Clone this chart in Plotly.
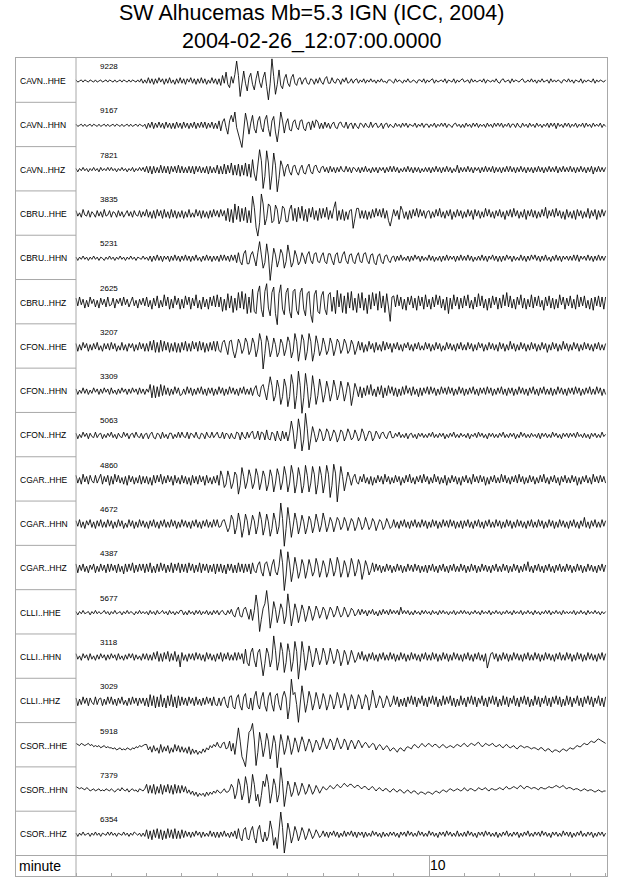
import plotly.graph_objects as go

# station / channel labels and max counts shown above each trace
stations = ["CAVN..HHE", "CAVN..HHN", "CAVN..HHZ",
            "CBRU..HHE", "CBRU..HHN", "CBRU..HHZ",
            "CFON..HHE", "CFON..HHN", "CFON..HHZ",
            "CGAR..HHE", "CGAR..HHN", "CGAR..HHZ",
            "CLLI..HHE", "CLLI..HHN", "CLLI..HHZ",
            "CSOR..HHE", "CSOR..HHN", "CSOR..HHZ"]
max_counts = [9228, 9167, 7821, 3835, 5231, 2625, 3207, 3309, 5063,
              4860, 4672, 4387, 5677, 3118, 3029, 5918, 7379, 6354]

# samples every 0.05 min (one line = one minute), scaled so 20 = max count
dt_min = 0.05
minute_ticks = [0, 1, 2, 3, 4, 5, 6, 7, 8, 9, 11, 12, 13, 14, 15]

cavn_hhe = [
    1,-1,0,1,-1,1,0,-1,1,0,-1,1,-1,0,1,-1,0,1,-1,1,
    0,-1,1,-1,0,1,-1,1,0,-1,1,-1,1,0,-1,1,-1,2,-2,1,
    -2,3,-2,2,-3,2,-2,3,-1,2,-3,2,-2,3,-2,1,-3,2,-2,3,
    -2,2,-3,2,-1,3,-2,2,-3,2,-2,3,-2,2,-3,1,-2,3,-2,2,
    -3,2,-4,5,-2,8,-3,-6,4,-2,6,18,5,-14,-4,9,-2,-9,3,7,
    -3,-8,2,9,-1,-6,3,8,-5,-17,-2,20,4,-12,-3,10,-4,-7,2,6,
    -2,-5,3,6,-2,-4,2,3,-3,1,3,-2,-3,2,1,-3,2,-2,3,-1,
    -3,2,4,-2,-2,3,-1,-2,2,1,-3,2,-1,3,-2,-1,2,-2,1,2,
    -2,1,-1,2,-2,1,-1,2,-1,1,-2,1,-1,2,-1,0,-2,1,1,-1,
    -2,2,-1,1,0,-2,1,-1,2,-1,-1,1,0,-2,1,1,-1,2,-2,1,
    -1,1,2,-2,1,-1,0,1,-1,2,-2,1,0,-1,2,-2,1,-1,1,2,
    -1,0,1,-2,2,-1,1,-1,0,1,-1,2,-2,1,0,-1,1,-1,2,-1,
    -2,1,2,-1,0,1,-2,2,-1,1,0,-1,1,2,-1,-1,1,-1,2,-1,
    1,-2,1,-1,2,-1,0,1,-2,2,-1,1,-1,1,0,-2,1,1,-1,2,
    -1,1,-2,1,0,-1,2,-2,1,-1,1,0,-1,2,-2,1,-1,1,0,-1,
    1]
cavn_hhn = [
    1,-1,0,1,-1,1,-1,0,1,-1,1,0,-1,1,-1,0,1,-1,1,-1,
    0,1,-1,1,0,-1,1,-1,0,1,-1,1,-1,0,1,-1,1,0,-1,1,
    -3,2,-2,3,-3,2,-2,3,-2,2,-3,3,-2,2,-3,2,-3,3,-2,2,
    -3,3,-2,2,-3,2,-2,3,-3,2,-2,3,-2,3,-3,2,-2,3,-3,2,
    -3,4,-5,3,6,-2,-8,4,9,3,12,-2,-7,-14,-20,-6,11,3,-8,2,
    9,-3,-7,4,8,-2,-6,5,9,-3,-10,4,8,-6,-15,-3,12,4,-7,2,
    6,-4,-5,3,5,-2,-4,4,5,-3,-5,2,3,-4,4,-2,5,3,-3,2,
    -3,3,-2,2,-3,1,3,-2,-3,2,3,-1,-2,3,-3,1,2,-3,2,-1,
    -3,2,1,-2,2,-1,-2,3,-2,1,2,-2,-1,2,-3,1,2,-2,1,-1,
    -2,2,-1,1,-2,2,-1,2,-2,1,0,-1,2,-2,1,-1,2,-2,1,1,
    -2,1,-1,2,-2,1,-1,2,-1,2,-2,1,0,-2,1,2,-1,1,-2,1,
    -2,2,-1,1,-2,2,-1,2,-2,1,-1,1,-2,2,-1,1,-2,2,-1,2,
    -1,2,-2,1,-1,2,-2,1,1,-2,2,-1,-2,2,-1,1,-2,2,-1,1,
    -2,2,-1,1,-2,1,-1,2,-2,2,-1,2,-3,2,-1,1,-2,2,-1,2,
    -2,1,-1,2,-2,1,-1,2,-2,2,-1,1,-2,2,-1,1,-1,2,-2,1,
    -1]
cavn_hhz = [
    1,-2,1,-1,2,-1,1,-2,1,-1,2,-1,1,-2,2,-1,1,-1,2,-1,
    2,-1,1,-2,1,-1,2,-1,1,-2,1,-1,2,-2,1,-1,2,-1,2,-2,
    3,-3,3,-4,3,-3,2,-3,4,-3,3,-3,3,-4,3,-2,3,-3,4,-3,
    3,-3,2,-3,3,-3,3,-4,3,-2,3,-3,2,-3,3,-4,3,-3,2,-3,
    4,-4,3,-4,5,-4,4,-3,6,-5,4,-5,5,-6,4,-5,6,-6,5,-7,
    9,-4,-10,6,18,8,-17,-6,17,6,-18,-5,15,4,-20,-8,8,3,-6,2,
    5,-2,-5,3,4,-2,-5,1,4,-3,-4,2,5,-2,-4,3,4,-1,-3,2,
    3,-2,2,-3,3,-2,2,-3,2,-2,3,-1,-2,3,-2,2,-3,2,1,-2,
    2,-3,2,-2,3,-2,1,-3,2,-2,2,-3,2,-1,2,-3,2,-2,3,-2,
    3,-2,2,-3,1,-2,2,-2,3,-2,2,-3,2,-2,2,-3,1,-2,2,-2,
    2,-3,2,-2,3,-2,2,-3,2,-2,3,-2,2,-3,1,-2,4,-3,2,-2,
    2,-2,3,-2,2,-3,2,-1,2,-3,2,-2,3,-2,2,-2,3,-3,2,-2,
    2,-3,2,-2,3,-2,3,-2,2,-3,2,-2,3,-2,2,-3,2,-2,2,-3,
    2,-2,3,-2,2,-3,2,-2,3,-2,2,-2,3,-3,2,-2,3,-2,2,-2,
    3,-2,2,-3,2,-2,3,-2,2,-3,2,-2,3,-4,2,-2,3,-2,2,-2,
    2]
cbru_hhe = [
    3,-2,1,-3,4,-1,-2,3,-3,2,0,-3,3,-2,2,-3,4,-2,-1,3,
    -3,2,1,-3,3,-2,2,-3,0,3,-2,2,-3,3,-1,-2,3,-3,2,-2,
    4,-3,2,-4,3,-4,4,-2,3,-4,4,-3,2,-4,4,-3,3,-4,2,-3,
    3,-4,2,-3,4,-3,1,-3,4,-2,3,-4,3,-3,2,-4,3,-3,4,-2,
    3,-3,4,-2,3,-6,5,-7,4,-8,9,-5,7,-7,5,-6,6,-8,3,-8,
    16,6,-12,-20,-8,18,9,-10,-4,9,7,-8,-6,8,4,-9,-5,7,5,-7,
    -7,4,8,-6,5,-7,6,-4,7,-6,4,-7,5,-3,6,-5,3,-6,5,-4,
    5,-3,6,-5,3,-4,5,11,-6,3,-5,4,-6,2,-5,3,4,-13,-4,5,
    5,-4,3,-4,3,-5,2,-4,4,-3,5,-2,4,-3,5,-4,3,-6,-11,-4,
    4,-2,3,-5,7,3,-4,2,-5,3,-4,4,-2,5,-3,4,-2,3,-4,2,
    3,-4,2,-3,4,-2,5,-3,2,-4,3,-2,4,-5,2,-3,4,-2,3,-4,
    2,-3,4,-2,3,-5,4,-2,3,-4,2,-3,5,-2,4,-3,2,-4,3,-2,
    4,-3,2,-5,3,-2,4,-3,5,-2,3,-4,2,-3,4,-5,3,-2,4,-3,
    3,-4,2,-3,4,-2,6,-4,3,-2,4,-3,5,-2,3,-4,2,-5,4,-3,
    2,-4,3,-5,4,-2,3,-4,2,-3,5,-4,3,-2,4,-5,3,-3,4,-2,
    3]
cbru_hhn = [
    1,-2,1,-1,2,-1,1,-2,1,-1,2,-1,1,-2,1,0,-2,1,-1,2,
    -1,1,-2,1,-1,2,-1,1,-2,1,-1,2,-1,1,-2,1,0,-1,2,-1,
    1,-2,2,-3,2,-2,3,-2,2,-3,2,-1,2,-3,2,-2,3,-2,2,-3,
    2,-2,3,-2,2,-3,2,-2,3,-2,1,-3,2,-2,3,-2,2,-3,2,-2,
    2,-3,3,-2,3,-2,2,-3,3,-2,3,-4,5,-3,-6,4,7,-5,-5,3,
    6,-2,-7,5,15,3,-9,-4,13,2,-20,-5,9,3,-8,-2,8,4,-9,-3,
    12,3,-8,-4,7,2,-6,-3,5,1,-5,3,6,-2,-5,4,5,-3,-4,2,
    5,-3,-5,4,4,-2,-6,3,5,-4,-4,3,6,-2,-5,3,4,-3,-5,2,
    5,-3,-4,4,5,-2,-5,3,4,-4,-6,2,4,-3,-5,2,3,-2,-4,1,
    2,-3,2,-2,3,-2,1,-2,2,-3,2,-2,3,-1,2,-3,2,-2,1,-2,
    3,-2,2,-3,1,-2,2,-3,2,-2,3,-2,2,-1,2,-3,2,-2,3,-2,
    2,-2,3,-2,2,-3,1,-2,2,-2,3,-2,2,-3,2,-1,3,-2,2,-3,
    2,-3,2,-2,3,-1,2,-3,2,-2,1,-2,3,-2,2,-3,2,-2,3,-1,
    3,-2,2,-3,2,-2,3,-2,1,-3,2,-2,3,-2,2,-3,2,-1,2,-2,
    2,-2,3,-2,3,-3,2,-1,2,-2,3,-2,2,-3,2,-2,3,-2,2,-2,
    2]
cbru_hhz = [
    4,-3,5,-2,3,-5,2,-4,5,-1,3,-4,2,-5,4,-2,3,-4,5,-3,
    -2,4,-5,3,-1,4,-3,5,-2,3,-4,1,5,-3,2,-5,3,-2,4,-3,
    5,-4,2,-6,4,-3,6,-5,2,-4,7,-3,5,-6,3,-5,6,-2,4,-6,
    3,-5,6,-2,5,-6,4,-3,7,-5,2,-6,5,-4,3,-6,5,-3,6,-4,
    7,-4,5,-8,3,-7,8,-5,6,-9,4,-7,9,-5,10,-6,8,-10,5,-9,
    12,-8,-10,9,15,-6,-13,10,17,-5,-12,9,14,-10,-20,8,16,-6,-11,9,
    13,-8,-14,10,12,-7,-11,9,13,-6,-12,8,10,-11,-18,7,11,-8,-10,6,
    10,-6,-11,7,9,-8,5,-10,11,-4,8,-9,6,-10,9,-5,10,-7,4,-9,
    8,-5,9,-7,4,-10,7,-6,9,-3,8,-7,10,-5,6,-9,8,-4,-17,5,
    6,-4,7,-3,5,-6,3,-7,5,-2,6,-5,4,-7,6,-3,5,-6,7,-4,
    3,-6,5,-4,7,-2,6,-5,3,-7,5,-10,4,-6,7,-3,5,-6,4,-5,
    6,-3,7,-5,2,-6,5,-4,8,-3,6,-5,3,-7,4,-5,6,-2,5,-6,
    4,-5,7,-3,9,-4,6,-5,3,-6,5,-2,7,-5,4,-6,3,-4,7,-5,
    5,-3,6,-4,2,-7,5,-3,6,-5,4,-6,3,-5,7,-2,5,-6,4,-3,
    6,-5,3,-6,7,-4,5,-3,6,-5,2,-6,4,-7,5,-3,6,-4,5,-6,
    5]
cfon_hhe = [
    3,-4,2,-3,4,-1,3,-4,2,-3,3,-2,4,-3,1,-4,3,-2,3,-3,
    4,-2,3,-4,1,-3,4,-3,2,-4,3,-1,3,-4,2,-3,4,-2,3,-4,
    3,-4,5,-3,6,-5,4,-5,6,-4,5,-3,4,-5,3,-4,4,-5,3,-5,
    4,-3,5,-4,3,-4,5,-2,4,-4,5,-3,4,-5,3,-4,4,-3,5,-4,
    5,-3,-5,4,6,-2,-7,5,6,-4,-10,-3,7,3,-6,-2,8,4,-7,-3,
    8,3,-9,-2,12,5,-20,-6,10,4,-9,-3,8,2,-9,-5,7,3,-8,-2,
    9,4,-10,-4,12,5,-13,-3,11,6,-12,-4,12,5,-13,-5,10,3,-8,-3,
    8,2,-7,-3,8,3,-8,-2,7,4,-6,-2,7,3,-6,-3,6,2,-7,-2,
    5,-3,4,-5,2,-4,5,-2,3,-5,4,-3,2,-4,5,-3,4,-2,3,-5,
    3,-2,4,-3,2,-4,3,-1,4,-3,2,-4,3,-2,4,-3,1,-3,4,-2,
    3,-4,2,-3,4,-2,3,-4,1,-3,4,-2,3,-3,2,-4,3,-2,4,-3,
    2,-3,4,-2,3,-4,2,-3,4,-1,3,-4,2,-3,4,-2,3,-3,2,-4,
    4,-2,3,-4,2,-3,5,-2,3,-4,2,-3,4,-2,3,-4,2,-3,4,-2,
    3,-4,2,-3,4,-2,3,-5,2,-3,4,-2,3,-4,2,-3,5,-2,3,-4,
    2,-3,4,-2,3,-4,2,-3,4,-2,3,-3,2,-4,3,-2,4,-3,2,-3,
    3]
cfon_hhn = [
    2,-3,1,-2,3,-2,2,-3,1,-2,3,-1,2,-3,2,-2,3,-1,2,-3,
    3,-2,1,-3,2,-2,3,-1,2,-3,2,-2,3,-1,2,-3,3,-2,2,-3,
    2,-1,6,-6,5,-6,4,-5,6,-4,5,-3,3,-4,2,-3,4,-2,3,-4,
    -3,2,-3,4,-2,3,-4,2,-3,3,-2,4,-3,2,-4,3,-2,3,-4,2,
    -3,4,-2,3,-4,2,-3,4,-2,3,-3,2,-4,3,-2,4,-3,2,-3,3,
    -4,2,5,-3,-5,4,6,-2,-8,3,13,5,-9,-4,10,3,-12,-5,11,4,
    -14,-5,15,6,-16,-4,18,5,-20,-6,16,4,-15,-5,14,3,-12,-4,11,2,
    -10,-3,9,2,-9,-2,10,3,-8,-3,9,2,-9,-2,8,3,-13,-4,7,2,
    -5,4,-6,3,-4,5,-3,6,-4,2,-5,4,-3,5,-6,3,-4,5,-2,4,
    -4,3,-5,2,-4,4,-3,5,-2,3,-4,4,-3,2,-5,3,-4,3,-2,4,
    -3,4,-2,3,-4,2,-3,4,-2,3,-3,4,-2,3,-4,2,-3,4,-2,3,
    -4,2,-3,3,-2,4,-3,2,-4,3,-2,3,-3,4,-2,3,-4,2,-3,3,
    -2,4,-3,2,-4,3,-2,3,-4,2,-3,4,-2,3,-3,2,-4,3,-2,4,
    -3,2,-4,3,-2,4,-3,2,-3,3,-4,2,-3,4,-2,3,-3,2,-4,3,
    -2,3,-3,4,-2,3,-4,2,-3,3,-2,4,-3,2,-3,4,-2,3,-4,2,
    -3]
cfon_hhz = [
    2,-3,1,-2,3,-1,2,-3,2,-1,-2,3,-2,1,2,-3,1,-2,2,-1,
    3,-2,1,-3,2,-1,-2,3,-1,2,-3,1,2,-2,3,-1,-2,2,-3,1,
    2,-3,1,3,-2,-3,2,1,-3,3,-2,1,-3,2,2,-3,1,-2,3,-2,
    3,-1,-2,3,-3,2,1,-2,3,-2,-3,2,1,-3,3,-1,-2,3,-2,1,
    3,-2,-2,3,-3,2,1,-3,2,-2,-3,3,2,-4,3,-1,-3,3,-2,2,
    4,-3,-2,4,-4,3,2,-4,5,-3,-4,3,1,-5,4,-2,-5,4,-3,3,
    -5,2,13,4,-12,-3,15,5,-14,-4,20,6,-13,-3,8,2,-6,-2,6,3,
    -5,-2,6,3,-5,-1,5,2,-6,-2,5,3,-5,-1,6,2,-4,-2,5,1,
    -5,-2,6,2,-5,-1,4,3,-5,-2,4,1,-3,2,3,-1,-3,2,4,-2,
    -2,2,-1,3,-2,1,-2,2,-3,1,2,-2,1,-3,2,-1,2,-2,1,-2,
    2,-1,3,-2,1,-2,2,-1,2,-3,1,-2,2,-1,3,-2,1,-2,2,-1,
    1,-2,2,-3,1,-1,2,-2,3,-1,2,-2,1,-3,2,-1,2,-2,1,-2,
    2,-1,3,-2,1,-2,2,-1,2,-3,1,-2,3,-1,2,-2,1,-2,2,-1,
    1,-2,2,-3,2,-1,2,-2,1,-2,3,-1,2,-2,1,-3,2,-1,2,-2,
    2,-1,2,-2,3,-1,1,-2,2,-2,1,-3,2,-1,2,-2,1,-2,3,-1,
    1]
cgar_hhe = [
    4,-3,2,-4,5,-2,3,-4,4,-1,-3,4,-3,2,5,-4,3,-2,4,-5,
    3,-4,5,-2,4,-3,2,-4,3,-5,4,-2,3,-4,2,-3,4,-4,3,-3,
    3,-4,2,-5,4,-3,4,-2,5,-4,3,-3,4,-2,3,-5,4,-3,2,-4,
    4,-3,3,-4,2,-5,4,-3,3,-4,4,-2,3,-5,4,-3,2,-4,3,-3,
    4,-5,8,3,-7,-4,8,2,-8,-3,7,4,-13,-5,11,3,-8,-2,9,3,
    -8,-3,10,4,-9,-2,8,3,-10,-4,9,3,-11,-3,10,4,-9,-2,12,4,
    -11,-3,13,5,-12,-4,11,3,-12,-5,13,4,-11,-3,12,5,-13,-4,12,4,
    -12,-3,13,5,-16,-5,14,6,-20,-4,12,3,-10,-2,7,2,-5,2,5,-2,
    -4,3,-2,5,-3,2,-4,3,-5,2,-3,4,-2,3,-4,5,-2,3,-4,2,
    -3,4,-2,3,-5,2,-3,4,-2,5,-3,2,-4,3,-2,4,-3,5,-2,3,
    -4,2,-3,5,-2,3,-4,2,-3,4,-5,2,-3,4,-2,3,-4,2,-5,3,
    -2,4,-3,2,-4,5,-2,3,-3,4,-2,3,-5,2,-4,3,-2,4,-3,2,
    -3,5,-2,4,-3,2,-4,3,-2,4,-3,5,-2,3,-4,2,-3,4,-2,3,
    -4,2,-3,4,-2,5,-3,2,-4,3,-2,4,-3,2,-5,3,-2,4,-3,2,
    -3,4,-2,3,-5,2,-4,3,-2,4,-3,2,-4,5,-2,3,-3,4,-2,3,
    -3]
cgar_hhn = [
    3,-2,4,-3,2,-4,3,-1,4,-3,2,-4,3,-2,4,-3,2,-3,4,-2,
    3,-4,2,-3,4,-2,3,-4,1,-3,4,-2,3,-4,2,-3,4,-2,3,-3,
    2,-4,3,-2,4,-3,2,-4,3,-2,4,-3,2,-3,4,-2,3,-4,2,-3,
    4,-2,3,-3,2,-4,3,-2,4,-3,2,-4,3,-2,4,-3,2,-3,4,-2,
    4,-3,-2,3,4,-2,-7,-3,8,4,-9,-3,10,2,-12,-4,9,3,-10,-2,
    8,3,-9,-2,11,4,-10,-3,9,2,-11,-4,10,3,-9,-2,19,5,-20,-4,
    15,3,-12,-2,10,3,-9,-2,8,2,-9,-3,7,3,-8,-2,9,2,-7,-1,
    10,3,-7,-2,6,2,-7,-1,6,3,-5,-2,6,2,-6,-1,5,2,-6,-2,
    6,2,-5,-2,6,1,-5,-2,5,2,-6,-1,4,2,-5,-2,5,1,-4,-2,
    4,-3,2,-4,3,-2,4,-3,2,-4,3,-2,4,-3,2,-3,4,-2,3,-4,
    2,-3,4,-2,3,-4,2,-3,4,-2,3,-3,4,-2,3,-4,2,-3,3,-4,
    3,-2,4,-3,2,-4,3,-2,4,-3,2,-4,3,-2,4,-3,2,-3,4,-2,
    3,-4,2,-3,4,-2,3,-4,2,-3,4,-2,3,-3,2,-4,3,-2,4,-3,
    2,-3,4,-2,3,-4,2,-3,4,-2,3,-4,2,-3,4,-2,3,-3,2,-4,
    3,-2,4,-3,2,-4,3,-2,6,-3,2,-4,3,-2,4,-3,2,-3,4,-2,
    3]
cgar_hhz = [
    4,-4,3,-2,4,-3,2,-4,3,-1,4,-4,2,-3,4,-2,3,-4,4,-3,
    4,-2,3,-4,4,-3,2,-5,4,-3,4,-2,5,-4,3,-3,4,-2,4,-4,
    4,-3,5,-4,2,-4,4,-3,5,-2,4,-4,3,-3,5,-4,4,-2,5,-4,
    4,-3,4,-4,5,-2,4,-4,3,-3,5,-4,4,-2,4,-4,3,-3,4,-5,
    4,-3,4,-4,3,-5,4,-2,4,-4,3,-4,5,-3,4,-4,4,-3,4,-5,
    5,-2,-4,3,6,-3,-7,4,6,-2,-7,3,8,-3,-6,2,17,5,-20,-6,
    15,4,-12,-3,10,2,-9,-3,8,3,-9,-2,8,2,-7,-3,9,3,-8,-2,
    7,2,-8,-3,9,3,-7,-2,10,4,-8,-3,7,2,-8,-2,9,3,-7,-2,
    8,3,-10,-3,7,2,-6,-2,5,-3,4,-2,3,-4,2,-3,4,-2,3,-4,
    2,-3,4,-2,3,-4,2,-3,4,-2,3,-3,4,-2,3,-4,2,-3,3,-4,
    3,-2,4,-3,2,-4,3,-2,4,-3,2,-4,3,-2,4,-3,2,-3,4,-2,
    3,-4,2,-3,4,-2,3,-4,2,-3,4,-2,3,-3,2,-4,3,-2,4,-3,
    2,-3,4,-2,3,-4,2,-3,4,-2,3,-4,2,-3,4,-2,6,-3,2,-4,
    3,-2,4,-3,2,-4,3,-2,4,-3,2,-4,3,-2,4,-3,2,-3,4,-2,
    3,-4,2,-3,4,-2,3,-4,2,-3,4,-2,3,-3,2,-4,3,-2,4,-3,
    3]
clli_hhe = [
    1,-2,1,-1,2,-1,0,1,-2,1,-1,2,-1,1,-1,0,2,-1,1,-2,
    1,-1,2,-1,0,1,-2,1,-1,2,-1,1,0,-2,1,-1,2,-1,1,-1,
    1,-2,2,-1,1,-2,2,-1,0,2,-1,1,-2,2,-1,1,-2,1,-1,2,
    2,-2,1,-2,2,-1,1,-2,2,-1,2,-2,1,-1,2,-2,1,-2,2,-1,
    2,-2,1,2,-1,-2,2,-1,3,-2,-4,2,5,-3,-4,3,5,-2,-6,3,
    -7,2,16,5,-17,-6,4,8,20,6,-14,-4,10,3,-9,-2,8,3,-10,-3,
    17,4,-12,-3,8,2,-9,-2,7,2,-8,-2,6,1,-7,-2,6,2,-5,-1,
    5,2,-6,-1,5,2,-4,-1,6,1,-4,-2,5,1,-4,-1,4,2,-3,-1,
    3,-2,3,-1,2,-3,2,-1,3,-2,1,-3,2,-2,3,-1,2,-2,3,-1,
    2,-1,2,-2,5,-1,2,-1,2,-2,1,-2,2,-1,1,-2,2,-1,2,-1,
    1,-2,2,-1,1,-2,2,-1,2,-1,1,-2,1,-1,2,-2,1,-1,2,-1,
    2,-1,1,-2,1,-1,2,-1,1,-2,2,-1,1,-1,2,-2,1,-1,2,-1,
    1,-2,1,-1,2,-1,1,-2,2,-1,1,-1,2,-2,1,-1,2,-1,1,-2,
    2,-1,1,-2,1,-1,2,-1,2,-2,1,-1,2,-1,1,-2,2,-1,1,-1,
    1,-1,2,-2,1,-1,2,-1,1,-2,2,-1,1,-1,2,-1,1,-2,1,-1,
    1]
clli_hhn = [
    3,-2,1,-3,3,-1,2,-3,3,-2,1,-3,2,-2,3,-1,2,-3,2,-2,
    3,-1,2,-3,3,-2,1,-3,2,-2,3,-1,3,-3,2,-2,1,-3,3,-2,
    3,-3,2,-3,4,-2,5,-4,3,-4,4,-2,5,-4,3,-3,5,-4,2,-9,
    4,-3,2,-4,3,-2,3,-3,4,-2,3,-3,2,-4,4,-2,3,-3,2,-4,
    3,-2,4,-4,3,-2,4,-3,2,-3,4,-3,4,-2,3,-6,7,-5,-8,4,
    8,-3,-9,4,7,-5,-17,-6,8,3,-9,-2,19,6,-12,-4,13,5,-14,-5,
    12,4,-13,-4,14,5,-20,-6,14,4,-12,-3,10,3,-9,-2,8,2,-7,-2,
    8,3,-7,-2,8,2,-6,-2,7,3,-8,-3,6,2,-7,-2,6,1,-5,-2,
    4,-2,5,-3,2,-4,3,-2,4,-3,2,-4,3,-2,4,-3,2,-3,4,-2,
    3,-4,2,-3,4,-2,3,-4,2,-3,4,-2,3,-3,2,-4,3,-2,4,-3,
    2,-3,4,-2,3,-4,2,-3,4,-2,3,-4,2,-3,4,-2,3,-3,2,-4,
    3,-2,4,-3,2,-4,3,-2,4,-3,2,-4,3,-10,-2,3,4,-2,3,-4,
    2,-3,4,-2,3,-4,2,-3,4,-2,3,-3,2,-4,3,-2,4,-3,2,-3,
    4,-2,3,-4,2,-3,4,-2,3,-3,2,-4,3,-2,4,-3,2,-3,4,-2,
    3,-4,2,-3,4,-2,3,-4,2,-3,4,-2,3,-3,2,-4,3,-2,4,-3,
    3]
clli_hhz = [
    3,-4,2,-3,4,-2,3,-4,3,-1,-3,4,-3,2,3,-4,2,-3,4,-2,
    4,-3,2,-4,3,-2,4,-3,1,-4,3,-3,4,-2,3,-4,3,-2,3,-4,
    3,-5,6,-4,5,-6,4,-5,6,-5,3,-6,5,-4,6,-5,4,-6,5,-4,
    4,-3,3,-4,4,-2,3,-4,4,-3,2,-4,3,-3,4,-2,3,-4,4,-3,
    -4,3,-4,2,4,-3,-6,4,5,-5,-7,3,6,-4,-8,4,7,-5,-7,3,
    -8,4,9,-3,-7,3,8,-4,-9,4,8,-3,-9,5,7,-3,-8,4,9,3,
    -16,-5,20,6,8,-3,-19,-4,14,3,-10,-2,9,3,-8,-2,8,2,-7,-2,
    7,2,-8,-3,6,2,-7,-2,8,3,-6,-2,7,2,-8,-3,6,2,-7,-2,
    6,2,-7,-2,6,3,-8,-2,10,3,-6,-2,5,2,-6,-2,5,1,-5,-2,
    5,-3,4,-5,2,-4,3,-5,4,-2,5,-3,4,-5,3,-2,5,-4,3,-5,
    4,-2,5,-3,4,-5,2,-4,5,-3,4,-2,5,-4,3,-5,2,-4,5,-3,
    3,-5,4,-2,5,-3,4,-5,3,-2,5,-4,3,-5,4,-2,5,-3,4,-5,
    2,-4,5,-3,4,-5,3,-2,5,-4,3,-5,4,-2,5,-3,4,-5,2,-4,
    5,-3,4,-5,3,-2,5,-4,3,-5,4,-2,5,-3,4,-5,2,-4,5,-3,
    4,-5,3,-2,5,-4,3,-5,4,-2,5,-3,4,-5,3,-2,5,-4,3,-5,
    4]
csor_hhe = [
    2,1,0,2,1,0,1,2,0,1,-1,0,-1,0,-2,-1,0,-2,-1,-2,
    -2,-3,-2,-4,-3,-2,-4,-3,-4,-2,-3,-4,-2,-3,-1,-2,0,-1,0,1,
    1,-4,-1,-6,0,-5,-2,-7,1,-6,-1,-5,0,-7,-2,-6,1,-5,0,-6,
    -1,-6,-2,-7,-1,-8,-3,-7,-4,-8,-5,-7,-3,-6,-2,-4,0,-2,1,-1,
    3,-1,-2,2,3,-3,-2,4,-5,2,-8,5,16,4,-10,-14,-19,-3,12,14,
    20,5,-18,-6,12,3,-10,-2,11,4,-12,-3,9,2,-20,-5,10,3,-8,-2,
    9,3,-8,-2,7,2,-6,1,8,3,-5,0,6,2,-6,-1,5,2,-4,0,
    7,2,-3,1,6,3,-4,1,7,2,-3,0,6,3,-4,1,5,2,-3,1,
    5,2,-2,1,3,1,-2,0,2,1,-4,-1,1,-1,-4,-2,0,-2,-5,-3,
    -2,-4,-6,-3,-2,-4,-5,-2,-1,-2,-3,0,1,-1,-2,0,2,0,-1,1,
    2,0,-1,1,1,-1,-2,0,1,-1,-2,-1,0,-1,-2,0,1,0,-1,1,
    2,0,-1,1,2,1,0,2,3,1,-1,0,2,1,0,1,2,0,-1,0,
    1,-1,-2,0,1,-1,-2,-1,0,-2,-3,-1,0,-1,-2,-1,-1,-2,-3,-2,
    -2,-3,-4,-2,-2,-4,-5,-3,-3,-5,-6,-4,-4,-5,-6,-4,-3,-4,-5,-3,
    -2,-3,-3,-1,0,-1,-1,1,2,1,1,3,4,3,3,5,6,5,4,3,
    2]
csor_hhn = [
    3,2,1,2,1,0,2,1,-1,0,1,-1,0,1,-1,0,-1,1,0,-1,
    1,-1,-2,0,1,-1,2,0,-1,1,-2,0,1,-1,0,-2,1,0,-1,1,
    5,-3,4,-3,5,-4,3,-3,5,-4,4,-2,5,-3,4,-4,5,-3,4,-3,
    4,-2,3,-3,0,-4,-1,-5,-2,-6,-3,-5,-3,-6,-2,-5,-2,-4,-1,-3,
    0,-2,-3,-1,1,-2,-2,0,5,2,-8,-3,10,4,-9,-3,12,4,-12,-4,
    14,5,-10,-4,-15,-5,8,3,14,5,-12,-3,10,4,-11,-4,20,6,-15,-4,
    8,3,-6,-2,7,2,-5,-1,6,2,-4,-1,5,1,-4,-1,4,1,-3,0,
    3,1,0,2,4,2,1,3,5,3,2,4,6,4,3,5,5,3,2,4,
    4,2,1,3,3,1,0,2,3,1,-1,1,2,0,-1,1,1,-1,-2,0,
    1,-1,-2,0,0,-2,-3,-1,0,-2,-3,-1,-1,-3,-4,-2,-2,-3,-4,-2,
    -2,-3,-4,-2,-1,-2,-3,-1,0,-1,-2,0,1,0,-1,0,1,0,-1,0,
    2,0,-1,1,1,0,-1,0,2,1,0,1,2,0,-1,1,1,0,0,1,
    2,1,0,2,3,1,1,2,3,2,1,3,4,2,1,3,3,2,1,2,
    2,1,0,2,2,1,1,2,3,2,2,3,4,3,2,3,4,2,1,2,
    2,1,0,1,1,0,-1,0,1,0,-1,0,0,-1,-2,-1,0,-1,-2,-1,
    -1]
csor_hhz = [
    1,-2,1,-1,2,-1,0,1,-2,1,-1,2,-1,1,-2,1,0,-1,2,-1,
    2,-1,1,-2,1,0,-1,2,-1,1,-2,1,-1,2,0,-1,1,-2,1,-2,
    4,-4,3,-5,4,-3,5,-4,4,-5,3,-4,5,-3,4,-4,5,-4,3,-4,
    4,-3,3,-2,2,-3,2,-2,3,-1,2,-3,2,-2,1,-2,3,-2,2,-3,
    2,-3,2,-2,3,-2,1,-3,2,-2,3,-4,5,-3,-6,4,6,-4,-5,3,
    7,-3,-8,4,8,-3,-7,2,-6,-2,12,4,-10,-3,-13,2,20,6,-17,-5,
    10,3,-8,-2,7,2,-6,-1,6,2,-5,-1,5,1,-4,-1,4,1,-3,-1,
    3,-2,2,-3,2,-1,3,-2,2,-3,1,-2,3,-2,2,-1,3,-2,2,-3,
    2,-1,2,-3,2,-2,1,-2,3,-1,2,-2,1,-3,2,-2,1,-2,2,-1,
    2,-2,1,-3,2,-1,2,-2,3,-1,2,-2,1,-2,3,-1,2,-2,1,-2,
    3,-1,2,-2,1,-3,2,-1,2,-2,3,-1,2,-2,1,-2,3,-2,1,-2,
    2,-2,3,-1,2,-2,1,-3,2,-1,2,-2,3,-1,2,-2,1,-2,2,-3,
    1,-2,2,-1,3,-2,1,-2,2,-1,2,-3,1,-2,2,-1,3,-2,1,-2,
    2,-1,2,-2,3,-1,2,-2,1,-3,2,-1,2,-2,1,-2,3,-1,2,-2,
    2,-3,1,-2,2,-1,3,-2,1,-2,2,-1,2,-3,1,-2,2,-1,2,-2,
    1]

traces = [cavn_hhe, cavn_hhn, cavn_hhz, cbru_hhe, cbru_hhn, cbru_hhz,
          cfon_hhe, cfon_hhn, cfon_hhz, cgar_hhe, cgar_hhn, cgar_hhz,
          clli_hhe, clli_hhn, clli_hhz, csor_hhe, csor_hhn, csor_hhz]

# one row per trace (1 unit tall), minute strip below
n_rows = len(traces)
row_px = 44.3
base_off = 23 / row_px      # baseline a little below row centre
amp_scale = 0.5 / 20        # value 20 -> half a row
x_left = -60 / 35.3         # label column, in minutes
x_right = 15.04
y_bottom = -(n_rows + 20.5 / row_px)
gray = "#a8a8a8"

fig = go.Figure()
annotations = []
shapes = []
for k, vals in enumerate(traces):
    base = -(k + base_off)
    times = [i * dt_min for i in range(len(vals))]
    fig.add_trace(go.Scatter(x=times, y=[base + v * amp_scale for v in vals],
                             mode="lines", line=dict(color="#000000", width=0.85),
                             hoverinfo="skip", showlegend=False))
    annotations.append(dict(x=x_left + 0.06, y=base, text=stations[k], xref="x", yref="y",
                            xanchor="left", yanchor="middle", showarrow=False,
                            font=dict(size=8.5, color="black")))
    annotations.append(dict(x=0.62, y=-(k + 8.5 / row_px), text=str(max_counts[k]),
                            xref="x", yref="y", xanchor="left", yanchor="middle",
                            showarrow=False, font=dict(size=8, color="black")))
    if k > 0:
        shapes.append(dict(type="line", xref="x", yref="y", x0=x_left, x1=0,
                           y0=-k, y1=-k, line=dict(color=gray, width=1)))

# line above the minute strip and the label column divider
shapes.append(dict(type="line", xref="x", yref="y", x0=x_left, x1=x_right,
                   y0=-n_rows, y1=-n_rows, line=dict(color=gray, width=1)))
shapes.append(dict(type="line", xref="x", yref="y", x0=0, x1=0,
                   y0=y_bottom, y1=0, line=dict(color=gray, width=1)))

annotations.append(dict(x=x_left + 0.03, y=(y_bottom - n_rows) / 2, text="minute",
                        xref="x", yref="y", xanchor="left", yanchor="middle",
                        showarrow=False, font=dict(size=14, color="black")))
annotations.append(dict(x=0.5, y=1.0 + 45 / 818, text="SW Alhucemas Mb=5.3 IGN (ICC, 2004)",
                        xref="paper", yref="paper", xanchor="center", yanchor="middle",
                        showarrow=False, font=dict(size=21.5, color="black")))
annotations.append(dict(x=0.5, y=1.0 + 17 / 818, text="2004-02-26_12:07:00.0000",
                        xref="paper", yref="paper", xanchor="center", yanchor="middle",
                        showarrow=False, font=dict(size=21.5, color="black")))

fig.update_layout(
    width=640, height=878,
    margin=dict(l=16, r=33, t=58, b=2),
    paper_bgcolor="white", plot_bgcolor="white",
    font=dict(family="Liberation Sans, Arial, sans-serif", color="black"),
    annotations=annotations, shapes=shapes,
)
fig.update_xaxes(range=[x_left, x_right], showgrid=False, zeroline=False,
                 showline=True, mirror=True, linecolor=gray, linewidth=1,
                 tickmode="array", tickvals=[10], ticktext=["10"],
                 ticks="inside", ticklen=20, tickcolor=gray, tickwidth=1,
                 ticklabelposition="inside right", tickfont=dict(size=14, color="black"),
                 minor=dict(tickmode="array", tickvals=minute_ticks, ticks="inside",
                            ticklen=3, tickcolor=gray, tickwidth=1, showgrid=False))
fig.update_yaxes(range=[y_bottom, 0], showgrid=False, zeroline=False,
                 showline=True, mirror=True, linecolor=gray, linewidth=1,
                 showticklabels=False, ticks="")

# drop the page's default body margin so the figure sits at the window corner
fig.write_html("out.html", config={"displayModeBar": False},
               post_script="document.body.style.margin = '0';")
